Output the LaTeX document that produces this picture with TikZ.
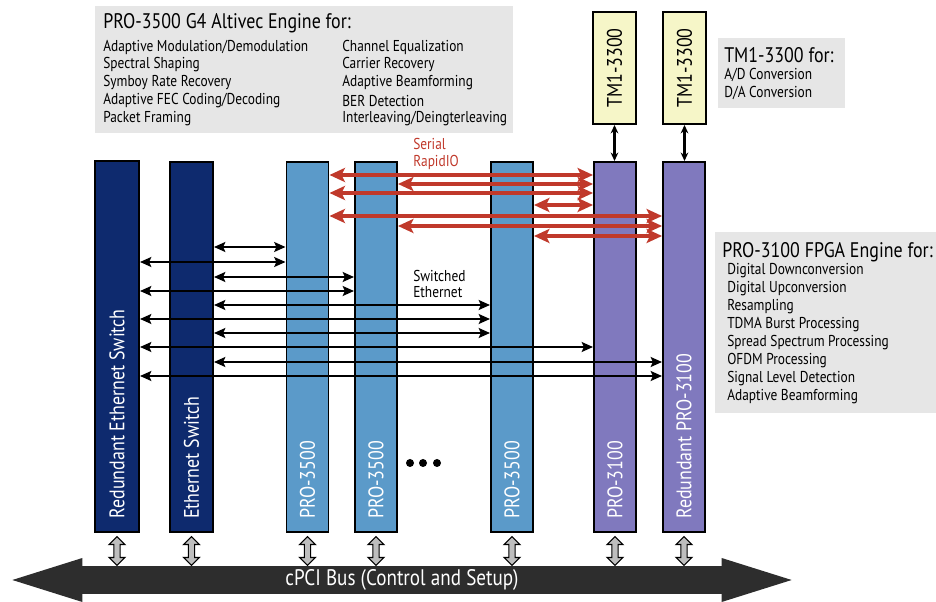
\documentclass[tikz,border=0pt]{standalone}
\usepackage{fontspec}
\setmainfont{PT Sans}[FakeStretch=0.85]
\usepackage{xcolor}
\usepackage{tikz}
\usetikzlibrary{positioning,arrows.meta,shapes.arrows}

\definecolor{switchnavy}{RGB}{14,42,110}
\definecolor{problue}{RGB}{91,154,201}
\definecolor{fpgapurple}{RGB}{128,121,190}
\definecolor{tmyellow}{RGB}{246,246,200}
\definecolor{infogray}{RGB}{230,230,230}
\definecolor{rioRed}{RGB}{192,57,43}
\definecolor{busgray}{RGB}{45,45,45}
\definecolor{linkgray}{RGB}{190,190,190}

\begin{document}
\begin{tikzpicture}[x=0.025cm, y=-0.025cm,
    every node/.style={inner sep=0pt},
    bar/.style={draw, line width=1.4pt, minimum width=1.05cm, minimum height=9.25cm},
    barlabel/.style={rotate=90, anchor=west, text=white, font=\fontsize{15}{15}\selectfont},
    tmbox/.style={draw, line width=1.4pt, fill=tmyellow, minimum width=1.075cm, minimum height=2.8cm},
    tmlabel/.style={rotate=90, font=\fontsize{15}{15}\selectfont},
    infobox/.style={fill=infogray, anchor=north west},
    infotitle/.style={anchor=west, font=\fontsize{15}{15}\selectfont},
    infoitem/.style={anchor=west, font=\fontsize{11.2}{12}\selectfont},
    note/.style={anchor=west, align=left, font=\fontsize{11.2}{12}\selectfont},
    ether/.style={{Stealth[length=8pt,width=7pt,inset=1.5pt]}-{Stealth[length=8pt,width=7pt,inset=1.5pt]}, line width=1.8pt},
    rio/.style={{Stealth[length=11pt,width=10pt,inset=2.5pt]}-{Stealth[length=11pt,width=10pt,inset=2.5pt]}, draw=rioRed, line width=2.4pt},
    tmlink/.style={{Stealth[length=6pt,width=5.5pt]}-{Stealth[length=6pt,width=5.5pt]}, line width=1.6pt},
    buslink/.style={double arrow, draw, line width=0.8pt, fill=linkgray, rotate=90, minimum height=0.72cm, minimum width=0.37cm, inner ysep=0.065cm, double arrow head extend=0.12cm},
    busbar/.style={fill=busgray, text=white, minimum width=16cm, minimum height=0.675cm, font=\fontsize{16}{16}\selectfont},
    moredot/.style={circle, fill, minimum size=0.2cm},
]
\useasboundingbox (0,0) rectangle (936,602);

\node[infobox, minimum width=10.45cm, minimum height=3.175cm] (g4box) at (95,6) {};
\node[infotitle] (g4title) at (103,23) {PRO-3500 G4 Altivec Engine for:};
\foreach \t [count=\i] in {Adaptive Modulation/Demodulation, Spectral Shaping, Symboy Rate Recovery, Adaptive FEC Coding/Decoding, Packet Framing}
    \node[infoitem] (g4left\i) at (103,29+18*\i) {\t};
\foreach \t [count=\i] in {Channel Equalization, Carrier Recovery, Adaptive Beamforming, BER Detection, Interleaving/Deingterleaving}
    \node[infoitem] (g4right\i) at (342,29+18*\i) {\t};

\node[infobox, minimum width=3.175cm, minimum height=1.75cm] (tminfo) at (718,38) {};
\node[infotitle] (tmtitle) at (724,55) {TM1-3300 for:};
\node[infoitem] (tmitem1) at (724,75) {A/D Conversion};
\node[infoitem] (tmitem2) at (724,93) {D/A Conversion};

\node[infobox, minimum width=5.6cm, minimum height=4.525cm] (fpgainfo) at (715,232) {};
\node[infotitle] (fpgatitle) at (722,252) {PRO-3100 FPGA Engine for:};
\foreach \t [count=\i] in {Digital Downconversion, Digital Upconversion, Resampling, TDMA Burst Processing, Spread Spectrum Processing, OFDM Processing, Signal Level Detection, Adaptive Beamforming}
    \node[infoitem] (fpgaitem\i) at (727,253+18*\i) {\t};

\node[tmbox] (tma) at (614.5,68) {};
\node[tmbox] (tmb) at (684.5,68) {};
\node[tmlabel] (tmalabel) at (tma) {TM1-3300};
\node[tmlabel] (tmblabel) at (tmb) {TM1-3300};

\node[bar, fill=switchnavy, minimum width=1.1cm] (res) at (117,346.5) {};
\node[bar, fill=switchnavy, minimum width=1.075cm] (es) at (191.5,347) {};
\node[bar, fill=problue] (pa) at (307.5,347) {};
\node[bar, fill=problue] (pb) at (376,347) {};
\node[bar, fill=problue] (pc) at (512,347) {};
\node[bar, fill=fpgapurple] (pd) at (615,347) {};
\node[bar, fill=fpgapurple] (pe) at (684,347) {};

\node[barlabel] (reslabel) at ([yshift=0.35cm]res.south) {Redundant Ethernet Switch};
\node[barlabel] (eslabel) at ([yshift=0.35cm]es.south) {Ethernet Switch};
\node[barlabel] (palabel) at ([yshift=0.35cm]pa.south) {PRO-3500};
\node[barlabel] (pblabel) at ([yshift=0.35cm]pb.south) {PRO-3500};
\node[barlabel] (pclabel) at ([yshift=0.35cm]pc.south) {PRO-3500};
\node[barlabel] (pdlabel) at ([yshift=0.35cm]pd.south) {PRO-3100};
\node[barlabel] (pelabel) at ([yshift=0.35cm]pe.south) {Redundant PRO-3100};

\foreach \i/\x in {1/410,2/423,3/437}
    \node[moredot] (dot\i) at (\x,463) {};

\draw[tmlink] (tma.south) -- (tma.south |- pd.north);
\draw[tmlink] (tmb.south) -- (tmb.south |- pe.north);

\node[note, text=rioRed] (riolabel) at (413,154) {Serial\\RapidIO};
\foreach \y/\a/\b in {175/pa/pd, 184/pb/pd, 193/pa/pd, 205/pc/pd, 216/pa/pe, 226/pb/pe, 236/pc/pe}
    \draw[rio] (\a.east |- 0,\y) -- (\b.west |- 0,\y);

\node[note] (etherlabel) at (413,284) {Switched\\Ethernet};
\foreach \y/\a/\b in {247/es/pa, 262/res/pa, 277/es/pb, 291/res/pb, 305/es/pc, 319/res/pc, 333/es/pc, 347/res/pd, 362/es/pe, 376/res/pe}
    \draw[ether] (\a.east |- 0,\y) -- (\b.west |- 0,\y);

\node[busbar] (bus) at (402,580) {cPCI Bus (Control and Setup)};
\fill[busgray] ([xshift=0.5pt]bus.west) ++(0,-22) -- ++(-70,22) -- ++(70,22) -- cycle;
\fill[busgray] ([xshift=-0.5pt]bus.east) ++(0,-22) -- ++(70,22) -- ++(-70,22) -- cycle;

\foreach \b in {res,es,pa,pb,pc,pd,pe}
    \node[buslink] (link-\b) at (\b.south |- 0,551) {};
\end{tikzpicture}
\end{document}
